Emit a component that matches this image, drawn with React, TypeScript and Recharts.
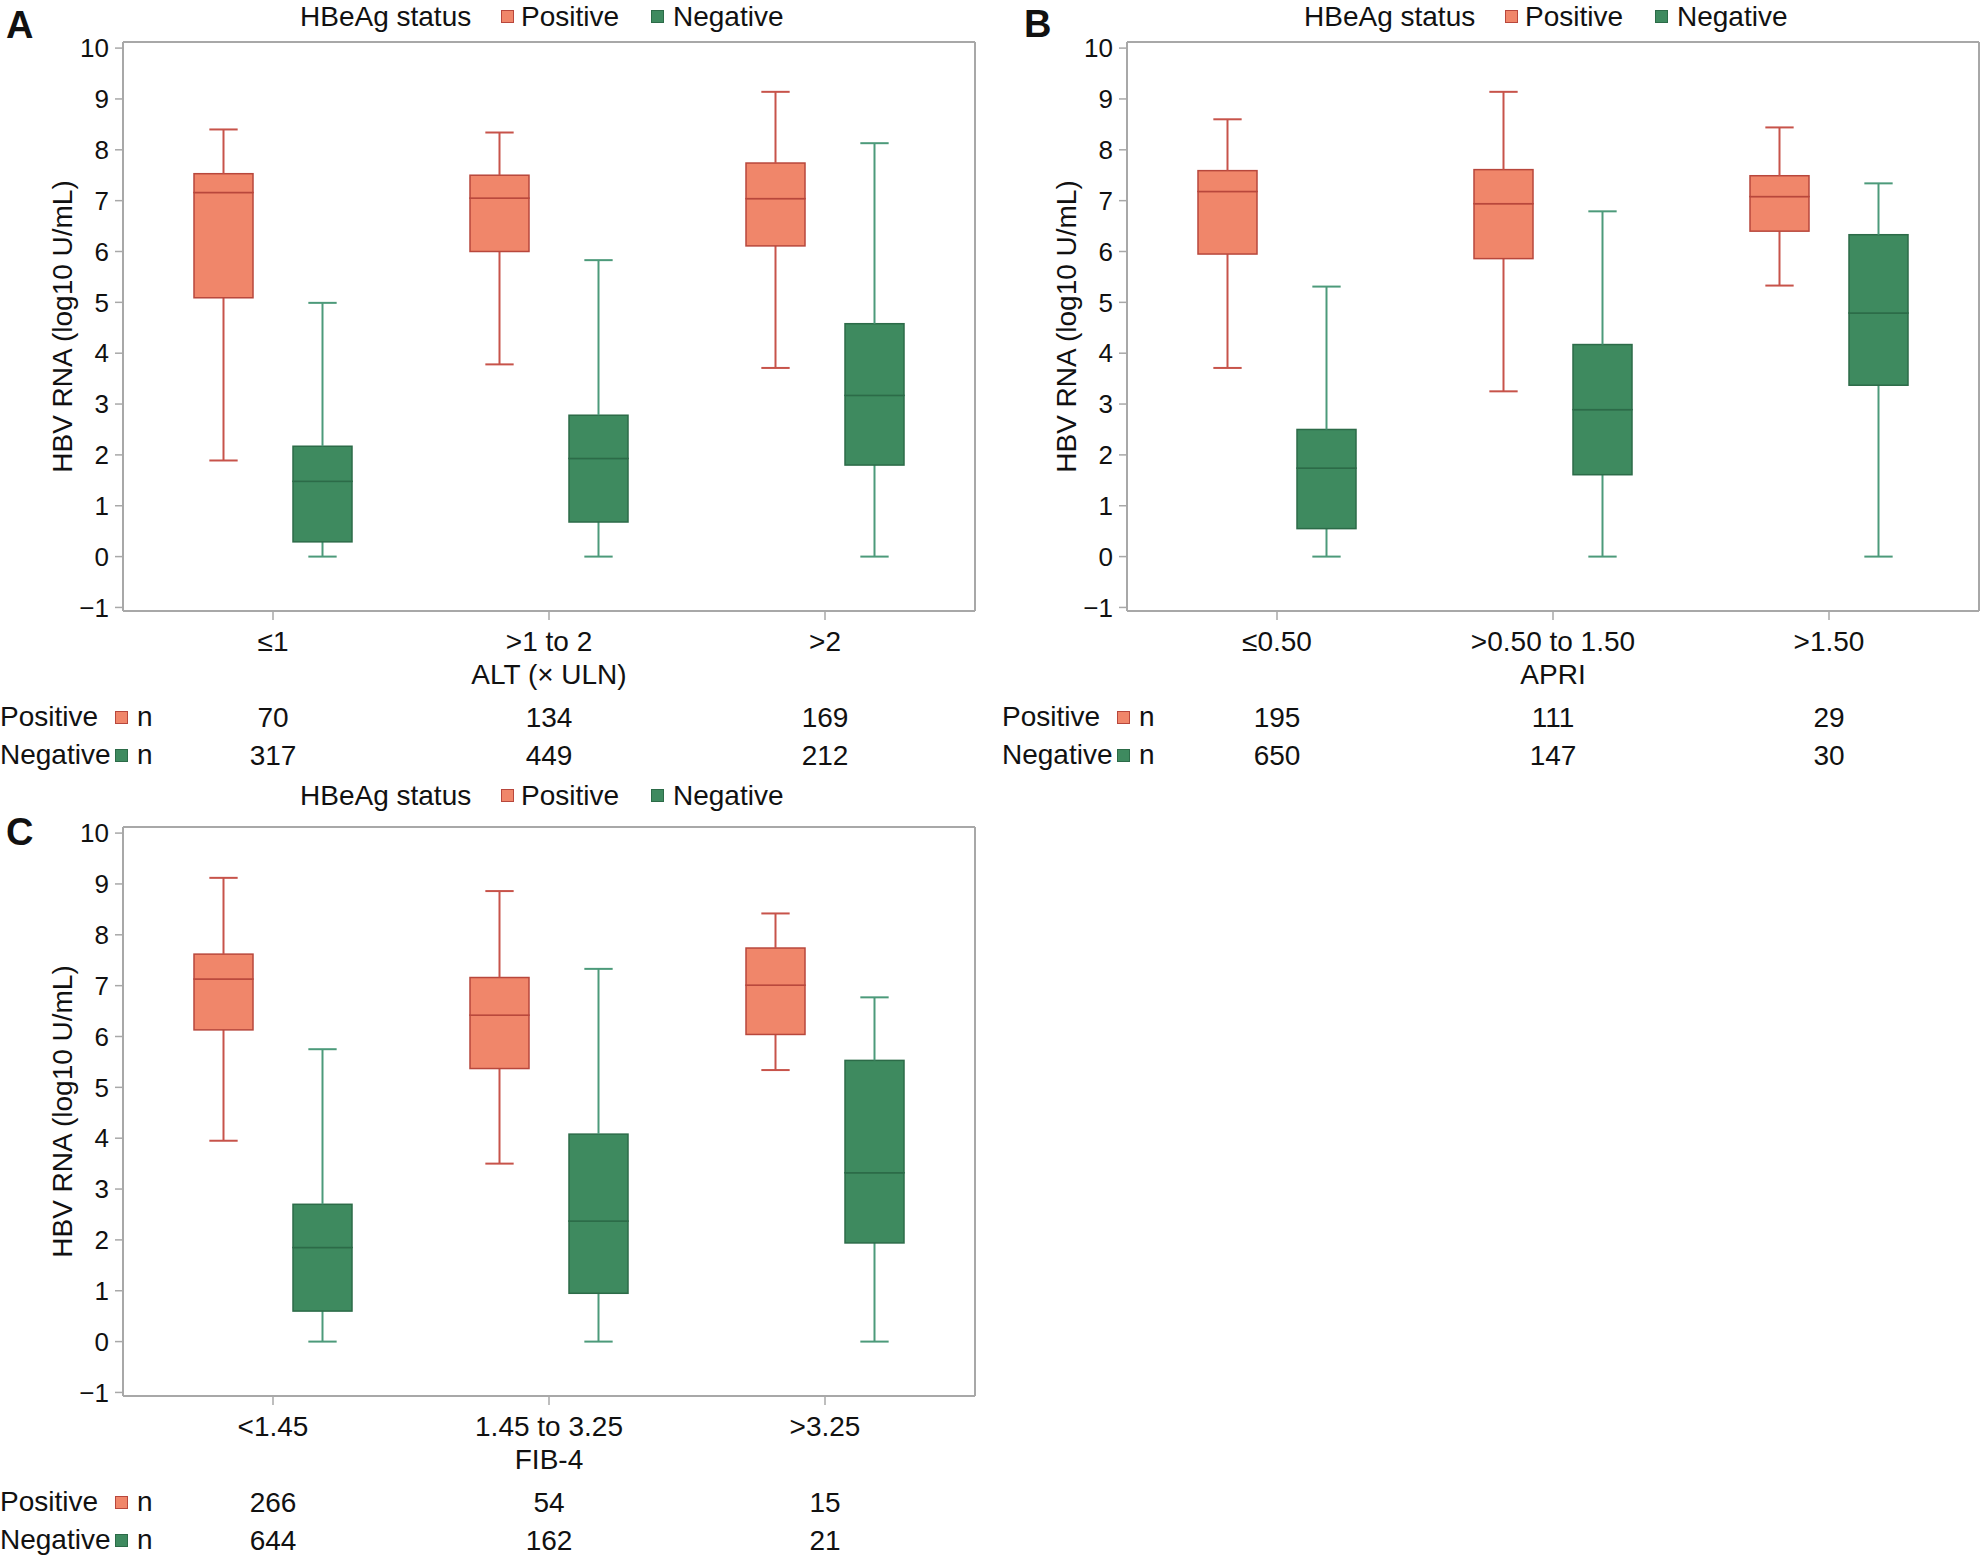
import { Bar, ComposedChart, XAxis, YAxis } from "recharts";

// each box: [min, q1, median, q3, max]
type Box = [number, number, number, number, number];

const altCategories = ["≤1", ">1 to 2", ">2"];
const altPositive: Box[] = [
  [1.89, 5.09, 7.16, 7.53, 8.4],
  [3.78, 6.0, 7.05, 7.5, 8.34],
  [3.71, 6.11, 7.04, 7.74, 9.14],
];
const altNegative: Box[] = [
  [0, 0.29, 1.48, 2.17, 4.99],
  [0, 0.68, 1.93, 2.78, 5.83],
  [0, 1.8, 3.17, 4.58, 8.13],
];
const altPositiveN = [70, 134, 169];
const altNegativeN = [317, 449, 212];

const apriCategories = ["≤0.50", ">0.50 to 1.50", ">1.50"];
const apriPositive: Box[] = [
  [3.71, 5.95, 7.18, 7.59, 8.6],
  [3.25, 5.86, 6.94, 7.61, 9.14],
  [5.33, 6.4, 7.08, 7.49, 8.44],
];
const apriNegative: Box[] = [
  [0, 0.55, 1.74, 2.5, 5.31],
  [0, 1.61, 2.89, 4.17, 6.79],
  [0, 3.37, 4.79, 6.33, 7.34],
];
const apriPositiveN = [195, 111, 29];
const apriNegativeN = [650, 147, 30];

const fibCategories = ["<1.45", "1.45 to 3.25", ">3.25"];
const fibPositive: Box[] = [
  [3.95, 6.13, 7.13, 7.62, 9.12],
  [3.5, 5.37, 6.42, 7.16, 8.86],
  [5.34, 6.04, 7.01, 7.74, 8.42],
];
const fibNegative: Box[] = [
  [0, 0.6, 1.85, 2.7, 5.75],
  [0, 0.95, 2.37, 4.08, 7.33],
  [0, 1.94, 3.32, 5.53, 6.77],
];
const fibPositiveN = [266, 54, 15];
const fibNegativeN = [644, 162, 21];

const yTicks = [-1, 0, 1, 2, 3, 4, 5, 6, 7, 8, 9, 10];

const POS_FILL = "#f0866a";
const POS_STROKE = "#b8473c";
const POS_WHISKER = "#c7534a";
const NEG_FILL = "#3e8a5f";
const NEG_STROKE = "#2c6b48";
const NEG_WHISKER = "#4c9a7a";
const AXIS = "#a8a8a8";
const TEXT = "#111";
const FONT = 28;

function buildRows(categories: string[], pos: Box[], neg: Box[]) {
  return categories.map((cat, i) => ({
    cat,
    pBase: pos[i][0],
    pLowW: pos[i][1] - pos[i][0],
    pLowBox: pos[i][2] - pos[i][1],
    pHighBox: pos[i][3] - pos[i][2],
    pHighW: pos[i][4] - pos[i][3],
    nBase: neg[i][0],
    nLowW: neg[i][1] - neg[i][0],
    nLowBox: neg[i][2] - neg[i][1],
    nHighBox: neg[i][3] - neg[i][2],
    nHighW: neg[i][4] - neg[i][3],
  }));
}

const empty = () => <g />;

function whisker(color: string, capAtTop: boolean) {
  return (p: any) => {
    const cx = p.x + p.width / 2;
    const half = p.width * 0.24;
    const capY = capAtTop ? p.y : p.y + p.height;
    return (
      <g>
        <line x1={cx} x2={cx} y1={p.y} y2={p.y + p.height} stroke={color} strokeWidth={2} />
        <line x1={cx - half} x2={cx + half} y1={capY} y2={capY} stroke={color} strokeWidth={2} />
      </g>
    );
  };
}

function boxHalf(fill: string, stroke: string) {
  return (p: any) => (
    <rect x={p.x} y={p.y} width={p.width} height={p.height} fill={fill} stroke={stroke} strokeWidth={1.5} />
  );
}

const fmtY = (v: number) => (v < 0 ? `\u2212${Math.abs(v)}` : String(v));

function Legend({ left, top }: { left: number; top: number }) {
  const t = top - FONT * 0.49;
  const sq = (x: number, fill: string, stroke: string) => (
    <div
      style={{
        position: "absolute",
        left: left + x,
        top: top - 7,
        width: 11,
        height: 11,
        background: fill,
        border: `1.5px solid ${stroke}`,
      }}
    />
  );
  const txt = (x: number, s: string) => (
    <div style={{ position: "absolute", left: left + x, top: t, lineHeight: `${FONT}px`, whiteSpace: "nowrap" }}>{s}</div>
  );
  return (
    <>
      {txt(300, "HBeAg status")}
      {sq(501, POS_FILL, POS_STROKE)}
      {txt(521, "Positive")}
      {sq(651, NEG_FILL, NEG_STROKE)}
      {txt(673, "Negative")}
    </>
  );
}

function RowLabel({ left, top, label, fill, stroke }: any) {
  const t = top - FONT * 0.49;
  return (
    <>
      <div style={{ position: "absolute", left, top: t, lineHeight: `${FONT}px` }}>{label}</div>
      <div
        style={{
          position: "absolute",
          left: left + 115,
          top: top - 6,
          width: 11,
          height: 11,
          background: fill,
          border: `1.5px solid ${stroke}`,
        }}
      />
      <div style={{ position: "absolute", left: left + 137, top: t, lineHeight: `${FONT}px` }}>n</div>
    </>
  );
}

type PanelProps = {
  left: number;
  top: number;
  letter: string;
  letterX: number;
  letterY: number;
  legendY: number;
  title: string;
  categories: string[];
  positive: Box[];
  negative: Box[];
  positiveN: number[];
  negativeN: number[];
};

function Panel(props: PanelProps) {
  const { left, top, letter, letterX, letterY, legendY, title, categories, positive, negative, positiveN, negativeN } =
    props;
  const rows = buildRows(categories, positive, negative);
  const pad = { left: 12, right: 12 };
  return (
    <>
      <div style={{ position: "absolute", left, top }}>
        <ComposedChart
          width={976}
          height={780}
          data={rows}
          margin={{ top: 41, right: 0, bottom: 13, left: 33 }}
          barGap={40}
          barSize={59}
        >
          <XAxis
            dataKey="cat"
            type="category"
            padding={pad}
            height={80}
            interval={0}
            tickSize={9}
            tickMargin={11}
            tick={{ fill: TEXT, fontSize: FONT }}
            axisLine={{ stroke: AXIS, strokeWidth: 2 }}
            tickLine={{ stroke: AXIS, strokeWidth: 1.5 }}
            label={{ value: title, position: "insideBottom", offset: 7, fill: TEXT, fontSize: FONT }}
          />
          <XAxis
            xAxisId="n1Pos"
            dataKey="cat"
            type="category"
            padding={pad}
            height={38}
            interval={0}
            axisLine={false}
            tickLine={false}
            tickSize={0}
            tickMargin={16}
            tick={{ fill: TEXT, fontSize: FONT }}
            tickFormatter={(_v: any, i: number) => String(positiveN[i])}
          />
          <XAxis
            xAxisId="n2Neg"
            dataKey="cat"
            type="category"
            padding={pad}
            height={38}
            interval={0}
            axisLine={false}
            tickLine={false}
            tickSize={0}
            tickMargin={16}
            tick={{ fill: TEXT, fontSize: FONT }}
            tickFormatter={(_v: any, i: number) => String(negativeN[i])}
          />
          <XAxis
            xAxisId="frameTop"
            orientation="top"
            dataKey="cat"
            height={1}
            tick={false}
            tickLine={false}
            axisLine={{ stroke: AXIS, strokeWidth: 2 }}
          />
          <YAxis
            type="number"
            domain={[-1.07, 10.12]}
            ticks={yTicks}
            interval={0}
            allowDataOverflow
            width={90}
            tickSize={8}
            tickMargin={6}
            tick={{ fill: TEXT, fontSize: 26 }}
            tickFormatter={fmtY}
            axisLine={{ stroke: AXIS, strokeWidth: 2 }}
            tickLine={{ stroke: AXIS, strokeWidth: 1.5 }}
            label={{
              value: "HBV RNA (log10 U/mL)",
              angle: -90,
              position: "insideLeft",
              offset: 29,
              fill: TEXT,
              fontSize: FONT,
              style: { textAnchor: "middle" },
            }}
          />
          <YAxis
            yAxisId="frameRight"
            orientation="right"
            type="number"
            domain={[0, 1]}
            width={1}
            tick={false}
            tickLine={false}
            axisLine={{ stroke: AXIS, strokeWidth: 2 }}
          />
          <Bar dataKey="pBase" stackId="pos" shape={empty} isAnimationActive={false} />
          <Bar dataKey="pLowW" stackId="pos" shape={whisker(POS_WHISKER, false)} isAnimationActive={false} />
          <Bar dataKey="pLowBox" stackId="pos" shape={boxHalf(POS_FILL, POS_STROKE)} isAnimationActive={false} />
          <Bar dataKey="pHighBox" stackId="pos" shape={boxHalf(POS_FILL, POS_STROKE)} isAnimationActive={false} />
          <Bar dataKey="pHighW" stackId="pos" shape={whisker(POS_WHISKER, true)} isAnimationActive={false} />
          <Bar dataKey="nBase" stackId="neg" shape={empty} isAnimationActive={false} />
          <Bar dataKey="nLowW" stackId="neg" shape={whisker(NEG_WHISKER, false)} isAnimationActive={false} />
          <Bar dataKey="nLowBox" stackId="neg" shape={boxHalf(NEG_FILL, NEG_STROKE)} isAnimationActive={false} />
          <Bar dataKey="nHighBox" stackId="neg" shape={boxHalf(NEG_FILL, NEG_STROKE)} isAnimationActive={false} />
          <Bar dataKey="nHighW" stackId="neg" shape={whisker(NEG_WHISKER, true)} isAnimationActive={false} />
        </ComposedChart>
      </div>
      <div
        style={{
          position: "absolute",
          left: left + letterX,
          top: top + letterY - 19,
          fontSize: 38,
          fontWeight: 700,
          lineHeight: "38px",
        }}
      >
        {letter}
      </div>
      <Legend left={left} top={top + legendY} />
      <RowLabel left={left === 0 ? 0 : left - 2} top={top + 717} label="Positive" fill={POS_FILL} stroke={POS_STROKE} />
      <RowLabel left={left === 0 ? 0 : left - 2} top={top + 755} label="Negative" fill={NEG_FILL} stroke={NEG_STROKE} />
    </>
  );
}

export default function App() {
  return (
    <div
      style={{
        position: "absolute",
        left: 0,
        top: 0,
        width: 1980,
        height: 1556,
        overflow: "hidden",
        background: "#fff",
        fontFamily: "'Liberation Sans', Arial, sans-serif",
        fontSize: FONT,
        color: TEXT,
      }}
    >
      <Panel
        left={0}
        top={0}
        letter="A"
        letterX={6}
        letterY={25}
        legendY={17}
        title="ALT (× ULN)"
        categories={altCategories}
        positive={altPositive}
        negative={altNegative}
        positiveN={altPositiveN}
        negativeN={altNegativeN}
      />
      <Panel
        left={1004}
        top={0}
        letter="B"
        letterX={20}
        letterY={24}
        legendY={17}
        title="APRI"
        categories={apriCategories}
        positive={apriPositive}
        negative={apriNegative}
        positiveN={apriPositiveN}
        negativeN={apriNegativeN}
      />
      <Panel
        left={0}
        top={785}
        letter="C"
        letterX={6}
        letterY={47}
        legendY={11}
        title="FIB-4"
        categories={fibCategories}
        positive={fibPositive}
        negative={fibNegative}
        positiveN={fibPositiveN}
        negativeN={fibNegativeN}
      />
    </div>
  );
}
